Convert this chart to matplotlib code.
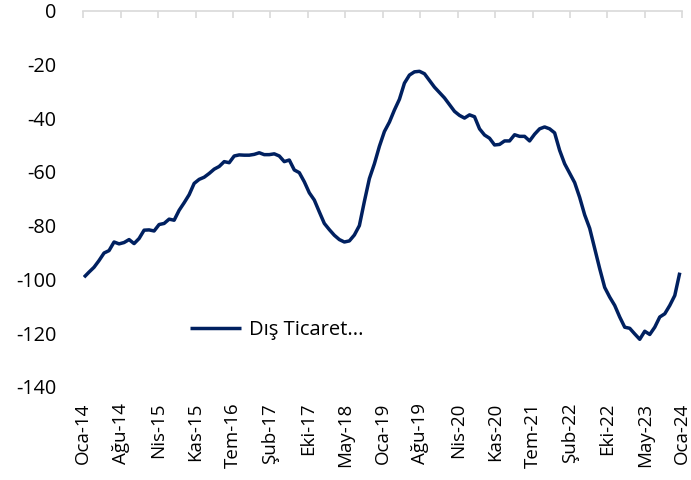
import numpy as np
import matplotlib
matplotlib.use("Agg")
import matplotlib.pyplot as plt

plt.rcParams['font.family'] = ['Open Sans', 'DejaVu Sans']

series_name = "Dış Ticaret..."
values = [
    -99.2, -97.3, -95.5, -93.0, -90.2, -89.3, -86.1, -86.8, -86.3, -85.2,
    -86.7, -84.8, -81.7, -81.6, -82.0, -79.6, -79.2, -77.6, -78.0, -74.3,
    -71.5, -68.5, -64.3, -62.8, -62.0, -60.6, -59.0, -58.0, -56.2, -56.6,
    -54.1, -53.7, -53.8, -53.8, -53.5, -52.9, -53.6, -53.6, -53.3, -54.1,
    -56.2, -55.6, -59.3, -60.3, -63.7, -67.8, -70.5, -74.9, -79.2, -81.5,
    -83.6, -85.2, -86.1, -85.7, -83.5, -80.0, -71.0, -62.5, -57.0, -50.5,
    -45.0, -41.5, -37.0, -33.0, -27.0, -24.0, -22.8, -22.6, -23.5, -26.0,
    -28.5, -30.5, -32.5, -35.0, -37.5, -39.0, -40.0, -38.8, -39.5, -44.0,
    -46.3, -47.5, -50.0, -49.8, -48.5, -48.5, -46.2, -46.8, -46.8, -48.5,
    -46.0, -44.0, -43.3, -44.0, -45.5, -52.0, -57.0, -60.5, -64.0, -69.5,
    -76.0, -81.0, -88.5, -96.0, -103.0, -106.6, -109.7, -114.0, -117.8, -118.2,
    -120.3, -122.3, -119.3, -120.5, -117.8, -114.0, -112.8, -109.7, -106.0, -97.5,
]
tick_labels = ["Oca-14", "Ağu-14", "Nis-15", "Kas-15", "Tem-16", "Şub-17", "Eki-17",
               "May-18", "Oca-19", "Ağu-19", "Nis-20", "Kas-20", "Tem-21", "Şub-22",
               "Eki-22", "May-23", "Oca-24"]
y_ticks = [0, -20, -40, -60, -80, -100, -120, -140]

fig = plt.figure(figsize=(6.91, 4.80), dpi=100)
ax = fig.add_axes([0.1205, 0.194, 0.8669, 0.784])

x = np.arange(len(values))
ax.plot(x, values, color='#002060', linewidth=2.5, solid_joinstyle='round',
        solid_capstyle='butt', label=series_name)

xmin, xmax = -0.15, 119.5
ax.set_xlim(xmin, xmax)
ax.set_ylim(-140, 0)
ax.set_xticks(np.linspace(xmin, xmax, len(tick_labels)))
ax.set_xticklabels(tick_labels, rotation=90, fontsize=13.5, color='black')
ax.set_yticks(y_ticks)
ax.set_yticklabels([str(v) for v in y_ticks], fontsize=14.3, color='black')

for s in ['left', 'right', 'bottom']:
    ax.spines[s].set_visible(False)
ax.spines['top'].set_color('#d9d9d9')
ax.spines['top'].set_linewidth(1.2)

ax.tick_params(axis='x', top=True, bottom=False, labeltop=False, labelbottom=True,
               direction='in', color='#d9d9d9', length=5, width=1.2, pad=11.5)
ax.tick_params(axis='y', left=False, right=False, pad=16)

leg = ax.legend(loc='center left', bbox_to_anchor=(0.178, 0.151), frameon=False,
                fontsize=14.5, handlelength=2.55, handletextpad=0.4,
                borderpad=0, borderaxespad=0)

fig.savefig('out.png', dpi=100)
